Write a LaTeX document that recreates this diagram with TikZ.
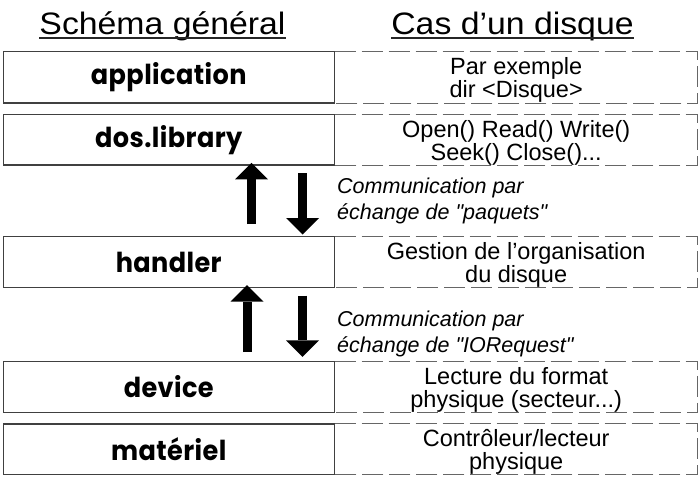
\documentclass[tikz,border=0pt]{standalone}
\usepackage{fontspec}
\setmainfont{Liberation Sans}
\newfontfamily\titlefont{Liberation Sans}[FakeStretch=1.09]
\newfontfamily\labfont{Poppins}[FakeStretch=0.93,LetterSpace=1.5]
\usetikzlibrary{arrows.meta,calc,positioning}
\lineskiplimit=-30pt
\tikzset{
  lbox/.style={draw=black!75, line width=1pt, minimum width=330.5pt, inner sep=0pt,
    font=\labfont\bfseries\fontsize{27.5}{30}\selectfont},
  rbox/.style={minimum width=363pt, inner sep=0pt, align=center,
    font=\fontsize{23.5}{23}\selectfont},
  dashline/.style={draw=black!60, line width=0.9pt, dash pattern=on 21pt off 6pt},
  bigarrow/.style={line width=9pt, -{Triangle[length=16.5pt,width=33pt,line width=0pt]}},
  comm/.style={font=\itshape\fontsize{21.5}{26}\selectfont, align=left,
    inner sep=0pt, anchor=north west},
  ttl/.style={font=\titlefont\fontsize{31}{32}\selectfont, inner sep=0pt, anchor=base},
  uline/.style={line width=2pt, draw=black!85},
}
\begin{document}
\begin{tikzpicture}[x=1pt,y=-1pt]
\useasboundingbox[fill=white] (0,0) rectangle (700,478);

% titles
\node[ttl] (t1) at (162.5,35) {Schéma général};
\node[ttl] (t2) at (512.5,35) {Cas d’un disque};
\draw[uline] ($(t1.base west)+(0,3.3)$) -- ($(t1.base east)+(0,3.3)$);
\draw[uline] ($(t2.base west)+(0,3.3)$) -- ($(t2.base east)+(0,3.3)$);

% left boxes (layers)
\node[lbox, minimum height=51pt] (app) at (168.75,77.5) {application};
\node[lbox, minimum height=50pt] (dos) at (168.75,140) {dos.library};
\node[lbox, minimum height=50.6pt] (hand) at (168.75,262) {handler};
\node[lbox, minimum height=50.6pt] (dev) at (168.75,387) {device};
\node[lbox, minimum height=50pt] (mat) at (168.75,449) {matériel};

% right parts
\node[rbox, right=0pt of app, yshift=-2.5pt] (appR) {Par exemple\\dir <Disque>};
\node[rbox, right=0pt of dos, yshift=-2.5pt] (dosR) {Open() Read() Write()\\Seek() Close()...};
\node[rbox, right=0pt of hand, yshift=-2.5pt] (handR) {Gestion de l’organisation\\du disque};
\node[rbox, right=0pt of dev, yshift=-2.5pt] (devR) {Lecture du format\\physique (secteur...)};
\node[rbox, right=0pt of mat, yshift=-2.5pt] (matR) {Contrôleur/lecteur\\physique};

\foreach \l/\r in {app/appR, dos/dosR, hand/handR, dev/devR, mat/matR}{
  \draw[dashline] (\l.north east) -- (\r.east |- \l.north) -- (\r.east |- \l.south) -- (\l.south east);
}
% redraw solid boxes over dashed
\foreach \l in {app, dos, hand, dev, mat}{
  \draw[draw=black!75, line width=1pt] (\l.north west) rectangle (\l.south east);
}

% arrows
\draw[bigarrow, shorten <=12pt, shorten >=-2.7pt] (251.5,0 |- hand.north) -- (251.5,0 |- dos.south);
\draw[bigarrow, shorten <=8pt, shorten >=1.7pt] (302.5,0 |- dos.south) -- (302.5,0 |- hand.north);
\draw[bigarrow, shorten <=9pt, shorten >=-2.7pt] (247,0 |- dev.north) -- (247,0 |- hand.south);
\draw[bigarrow, shorten <=7.7pt, shorten >=4.4pt] (302.5,0 |- hand.south) -- (302.5,0 |- dev.north);

% communication labels
\node[comm] (c1) at (337,177.5) {Communication par\\échange de \textquotedbl paquets\textquotedbl};
\node[comm] (c2) at (337,311) {Communication par\\échange de \textquotedbl IORequest\textquotedbl};
\end{tikzpicture}
\end{document}
